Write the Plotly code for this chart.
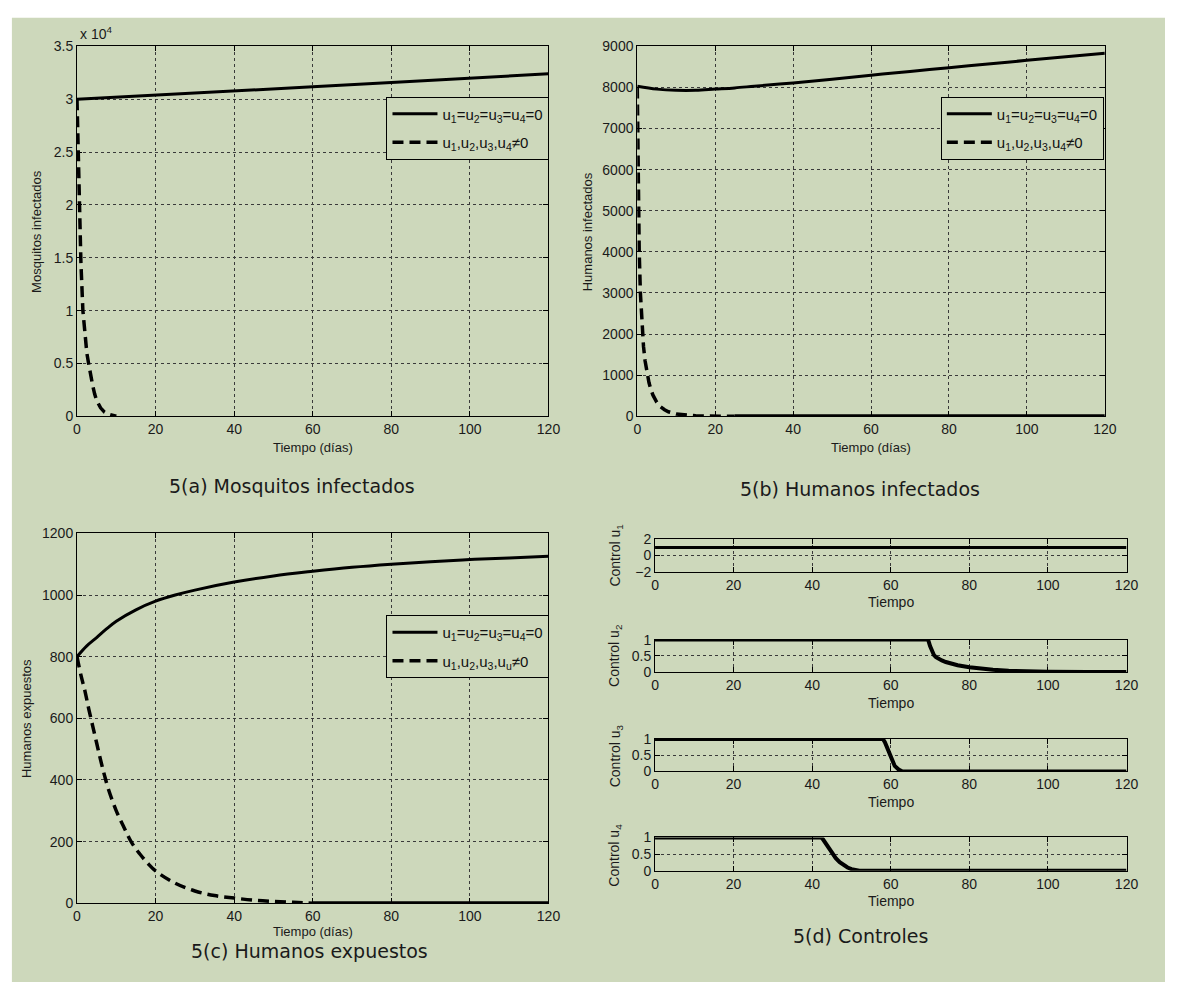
import plotly.graph_objects as go

W, H = 1177, 990

# ---------------- data ----------------
# 5(a) Mosquitos infectados
t_a_free = [0, 20, 40, 60, 80, 100, 120]
mosq_free = [30000, 30370, 30770, 31170, 31570, 31980, 32400]
t_a_ctrl = [0, 0.3, 0.6, 1, 1.5, 2, 2.5, 3, 3.5, 4, 4.5, 5, 6, 7, 8, 9, 10]
mosq_ctrl = [30000, 25000, 20000, 14500, 10000, 7600, 6000, 4900, 3800, 2900, 2100, 1500, 800, 400, 200, 100, 0]

# 5(b) Humanos infectados
t_b_free = [0, 5, 10, 15, 20, 25, 30, 40, 50, 60, 70, 80, 90, 100, 110, 120]
hum_inf_free = [8030, 7960, 7930, 7930, 7960, 7990, 8030, 8110, 8200, 8300, 8390, 8480, 8570, 8660, 8750, 8830]
t_b_ctrl = [0, 0.1, 0.2, 0.3, 0.5, 0.8, 1.2, 1.6, 2, 2.5, 3, 3.5, 4, 5, 6, 7, 8, 10, 12, 15, 18, 21, 25]
hum_inf_ctrl = [8000, 7000, 6000, 5200, 4000, 3000, 2200, 1700, 1350, 1050, 820, 650, 520, 340, 230, 160, 110, 55, 30, 12, 5, 2, 0]
t_b_tail = [25, 120]
hum_inf_tail = [0, 0]

# 5(c) Humanos expuestos
t_c_free = [0, 2.5, 5, 7.5, 10, 15, 20, 25, 30, 40, 50, 60, 70, 80, 90, 100, 110, 120]
hum_exp_free = [800, 835, 862, 890, 915, 952, 980, 1000, 1016, 1042, 1062, 1077, 1090, 1100, 1108, 1115, 1120, 1126]
t_c_ctrl = [0, 1, 2, 3, 4, 5, 6, 7, 8, 10, 12, 14, 16, 18, 20, 25, 30, 35, 40, 45, 50, 55, 60]
hum_exp_ctrl = [800, 740, 690, 630, 575, 520, 465, 415, 370, 300, 245, 195, 160, 130, 105, 65, 40, 25, 17, 10, 6, 3, 0]
t_c_tail = [60, 120]
hum_exp_tail = [0, 0]

# 5(d) Controles
t_u1 = [0, 120]
u1 = [1, 1]
t_u2 = [0, 69.5, 70, 70.5, 71, 71.5, 72, 73, 74, 75, 77, 80, 83, 86, 90, 95, 100, 110, 120]
u2 = [1, 1, 0.8, 0.62, 0.52, 0.46, 0.42, 0.36, 0.31, 0.27, 0.21, 0.15, 0.1, 0.07, 0.04, 0.02, 0.01, 0, 0]
t_u3 = [0, 58, 58.5, 59, 59.5, 60, 60.5, 61, 62, 63, 120]
u3 = [1, 1, 0.9, 0.75, 0.55, 0.4, 0.27, 0.17, 0.06, 0, 0]
t_u4 = [0, 42.3, 42.7, 43, 43.5, 44, 45, 46, 47, 48, 49, 50, 51, 52, 120]
u4 = [1, 1, 0.95, 0.9, 0.8, 0.7, 0.53, 0.38, 0.26, 0.17, 0.1, 0.05, 0.02, 0, 0]

x_ticks = [0, 20, 40, 60, 80, 100, 120]
a_ticks = [0, 5000, 10000, 15000, 20000, 25000, 30000, 35000]
a_ticktext = ["0", "0.5", "1", "1.5", "2", "2.5", "3", "3.5"]
b_ticks = [0, 1000, 2000, 3000, 4000, 5000, 6000, 7000, 8000, 9000]
c_ticks = [0, 200, 400, 600, 800, 1000, 1200]
u1_ticks = [-2, 0, 2]
u_ticks = [0, 0.5, 1]

leg_free = "u<sub>1</sub>=u<sub>2</sub>=u<sub>3</sub>=u<sub>4</sub>=0"
leg_ctrl = "u<sub>1</sub>,u<sub>2</sub>,u<sub>3</sub>,u<sub>4</sub>≠0"
leg_ctrl_c = "u<sub>1</sub>,u<sub>2</sub>,u<sub>3</sub>,u<sub>u</sub>≠0"

# ---------------- styling ----------------
BG = "#cdd8bb"
FONT = "Liberation Sans"


def px(x):
    return x / W


def py(y):
    return 1 - y / H


def axis(domain, rng, tickvals, anchor, ticktext=None):
    d = dict(domain=domain, range=rng, tickmode="array", tickvals=tickvals,
             ticks="inside", ticklen=5, tickcolor="black", tickwidth=1,
             showline=True, linecolor="black", linewidth=1, mirror="ticks",
             showgrid=True, gridcolor="#3a3a3a", griddash="dot", gridwidth=1,
             zeroline=False, anchor=anchor,
             tickfont=dict(family=FONT, size=14, color="#1a1a1a"))
    if ticktext is not None:
        d["ticktext"] = ticktext
    return d


fig = go.Figure()

SOLID = dict(color="black", width=3)
DASH = dict(color="black", width=3.5, dash="11px,6px")

# (a)
fig.add_trace(go.Scatter(x=t_a_free, y=mosq_free, mode="lines", line=SOLID, name=leg_free,
                         xaxis="x", yaxis="y", legend="legend", legendgroup="a1"))
fig.add_trace(go.Scatter(x=t_a_ctrl, y=mosq_ctrl, mode="lines", line=DASH, name=leg_ctrl,
                         xaxis="x", yaxis="y", legend="legend", legendgroup="a2"))
# (b)
fig.add_trace(go.Scatter(x=t_b_free, y=hum_inf_free, mode="lines", line=dict(SOLID, shape="spline"), name=leg_free,
                         xaxis="x2", yaxis="y2", legend="legend2", legendgroup="b1"))
fig.add_trace(go.Scatter(x=t_b_ctrl, y=hum_inf_ctrl, mode="lines", line=DASH, name=leg_ctrl,
                         xaxis="x2", yaxis="y2", legend="legend2", legendgroup="b2"))
fig.add_trace(go.Scatter(x=t_b_tail, y=hum_inf_tail, mode="lines", line=dict(color="black", width=4),
                         xaxis="x2", yaxis="y2", showlegend=False, legendgroup="b2", legend="legend2"))
# (c)
fig.add_trace(go.Scatter(x=t_c_free, y=hum_exp_free, mode="lines", line=dict(SOLID, shape="spline"), name=leg_free,
                         xaxis="x3", yaxis="y3", legend="legend3", legendgroup="c1"))
fig.add_trace(go.Scatter(x=t_c_ctrl, y=hum_exp_ctrl, mode="lines", line=dict(DASH, shape="spline"), name=leg_ctrl_c,
                         xaxis="x3", yaxis="y3", legend="legend3", legendgroup="c2"))
fig.add_trace(go.Scatter(x=t_c_tail, y=hum_exp_tail, mode="lines", line=dict(color="black", width=4),
                         xaxis="x3", yaxis="y3", showlegend=False, legendgroup="c2", legend="legend3"))
# (d)
U = dict(color="black", width=4)
fig.add_trace(go.Scatter(x=t_u1, y=u1, mode="lines", line=dict(color="black", width=3), xaxis="x4", yaxis="y4", showlegend=False))
fig.add_trace(go.Scatter(x=t_u2, y=u2, mode="lines", line=U, xaxis="x5", yaxis="y5", showlegend=False))
fig.add_trace(go.Scatter(x=t_u3, y=u3, mode="lines", line=U, xaxis="x6", yaxis="y6", showlegend=False))
fig.add_trace(go.Scatter(x=t_u4, y=u4, mode="lines", line=U, xaxis="x7", yaxis="y7", showlegend=False))

# panel geometry (page pixels)
A_X = [px(74), px(552)]
B_X = [px(642), px(1116)]
D_X = [px(660), px(1138)]
TOP_Y = [py(415), py(39)]
C_Y = [py(910), py(534)]
D_Y = [[py(573), py(540)], [py(675), py(642)], [py(776), py(743)], [py(877), py(843)]]

layout = dict(
    width=W, height=H,
    margin=dict(l=0, r=0, t=0, b=0),
    paper_bgcolor="white", plot_bgcolor=BG,
    showlegend=True,
    xaxis=axis(A_X, [0, 120], x_ticks, "y"),
    yaxis=axis(TOP_Y, [0, 35000], a_ticks, "x", a_ticktext),
    xaxis2=axis(B_X, [0, 120], x_ticks, "y2"),
    yaxis2=axis(TOP_Y, [0, 9000], b_ticks, "x2"),
    xaxis3=axis(A_X, [0, 120], x_ticks, "y3"),
    yaxis3=axis(C_Y, [0, 1200], c_ticks, "x3"),
    xaxis4=axis(D_X, [0, 120], x_ticks, "y4"),
    yaxis4=axis(D_Y[0], [-2, 2], u1_ticks, "x4"),
    xaxis5=axis(D_X, [0, 120], x_ticks, "y5"),
    yaxis5=axis(D_Y[1], [0, 1], u_ticks, "x5"),
    xaxis6=axis(D_X, [0, 120], x_ticks, "y6"),
    yaxis6=axis(D_Y[2], [0, 1], u_ticks, "x6"),
    xaxis7=axis(D_X, [0, 120], x_ticks, "y7"),
    yaxis7=axis(D_Y[3], [0, 1], u_ticks, "x7"),
)

leg_common = dict(bgcolor=BG, bordercolor="black", borderwidth=1,
                  font=dict(family=FONT, size=15, color="#111"),
                  xanchor="right", yanchor="top", tracegroupgap=6,
                  itemwidth=45)
layout["legend"] = dict(leg_common, x=px(553), y=py(90))
layout["legend2"] = dict(leg_common, x=px(1115), y=py(90))
layout["legend3"] = dict(leg_common, x=px(553), y=py(617))

fig.update_layout(**layout)

# green sheet; white rim on the left (8px) and top (10px) as in the reference
fig.add_shape(type="rect", xref="paper", yref="paper", x0=px(8), x1=1, y0=0, y1=py(10),
              fillcolor=BG, line=dict(width=0), layer="below")

ann = []


def text(x, y, s, size=13, angle=0, family=FONT, xanchor="center"):
    ann.append(dict(x=px(x), y=py(y), xref="paper", yref="paper", text=s, showarrow=False,
                    textangle=angle, xanchor=xanchor, yanchor="middle",
                    font=dict(family=family, size=size, color="#1a1a1a")))


# axis titles
text(33, 227, "Mosquitos infectados", angle=-90)
text(591, 227, "Humanos infectados", angle=-90)
text(23, 722, "Humanos expuestos", angle=-90)
for yy, k in zip([557, 659, 760, 861], [1, 2, 3, 4]):
    text(620, yy, "Control u<sub>%d</sub>" % k, size=14, angle=-90)
text(313, 447, "Tiempo (días)")
text(879, 447, "Tiempo (días)")
text(313, 939, "Tiempo (días)")
for yy in [604, 706, 807, 908]:
    text(899, yy, "Tiempo", size=14)
# exponent label
text(75, 25, "x 10<sup>4</sup>", size=14, xanchor="left")
# captions
CAP = "DejaVu Sans"
text(292, 486, "5(a) Mosquitos infectados", size=19, family=CAP)
text(868, 489, "5(b) Humanos infectados", size=19, family=CAP)
text(310, 958, "5(c) Humanos expuestos", size=19, family=CAP)
text(868, 943, "5(d) Controles", size=19, family=CAP)

fig.update_layout(annotations=ann)

fig.write_html("out.html",
               config={"displayModeBar": False},
               post_script="document.body.style.margin='0';document.body.style.overflow='hidden';")
